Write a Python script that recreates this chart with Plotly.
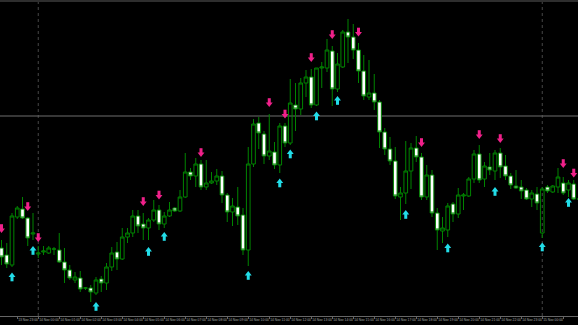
import plotly.graph_objects as go
import pandas as pd

# ---------------- data (M15 bars) ----------------
start = pd.Timestamp("2024-11-13 22:15")
bar = pd.Timedelta(minutes=15)

open_ = [147.52, 147.45, 147.35, 147.83, 147.91, 147.82, 147.66, 147.46, 147.48, 147.47,
         147.51, 147.50, 147.38, 147.30, 147.20, 147.22, 147.12, 147.12, 147.07, 147.21,
         147.17, 147.33, 147.48, 147.41, 147.63, 147.67, 147.84, 147.76, 147.72, 147.80,
         147.90, 147.76, 147.84, 147.92, 147.89, 148.03, 148.28, 148.24, 148.36, 148.13,
         148.17, 148.19, 148.24, 148.05, 147.88, 147.93, 147.85, 147.50, 148.36, 148.77,
         148.66, 148.44, 148.48, 148.35, 148.74, 148.57, 148.95, 148.91, 149.17, 149.23,
         148.95, 149.32, 149.32, 149.49, 149.11, 149.33, 149.68, 149.63, 149.50, 149.29,
         149.03, 149.07, 148.98, 148.68, 148.51, 148.39, 148.03, 148.07, 148.29, 148.52,
         148.43, 148.03, 148.25, 147.87, 147.69, 147.70, 147.96, 147.86, 148.04, 148.04,
         148.21, 148.46, 148.21, 148.33, 148.29, 148.47, 148.34, 148.24, 148.14, 148.13,
         148.10, 148.01, 148.06, 147.67, 148.13, 148.08, 148.13, 148.17, 148.10, 148.16,
         148.01]
high = [147.60, 147.57, 147.87, 147.94, 148.03, 147.83, 147.87, 147.54, 147.54, 147.54,
        147.53, 147.67, 147.52, 147.35, 147.28, 147.29, 147.13, 147.15, 147.23, 147.24,
        147.37, 147.53, 147.58, 147.72, 147.72, 147.90, 147.90, 147.87, 147.82, 148.00,
        147.95, 147.88, 147.98, 147.93, 148.10, 148.47, 148.32, 148.42, 148.40, 148.40,
        148.28, 148.31, 148.29, 148.07, 148.02, 148.13, 147.92, 148.53, 148.81, 148.83,
        148.69, 148.86, 148.58, 148.77, 148.77, 149.21, 149.17, 149.22, 149.30, 149.31,
        149.32, 149.38, 149.61, 149.54, 149.47, 149.70, 149.81, 149.76, 149.57, 149.45,
        149.40, 149.26, 149.00, 148.72, 148.63, 148.53, 148.13, 148.59, 148.57, 148.64,
        148.47, 148.35, 148.30, 147.92, 147.83, 147.97, 147.98, 148.12, 148.07, 148.23,
        148.50, 148.55, 148.38, 148.47, 148.50, 148.52, 148.45, 148.27, 148.30, 148.20,
        148.12, 148.10, 148.13, 148.13, 148.15, 148.15, 148.32, 148.23, 148.20, 148.20,
        148.03]
low = [147.35, 147.32, 147.33, 147.81, 147.81, 147.54, 147.60, 147.42, 147.45, 147.46,
       147.45, 147.37, 147.17, 147.20, 147.17, 147.08, 147.10, 146.98, 147.05, 147.08,
       147.10, 147.29, 147.30, 147.40, 147.57, 147.63, 147.67, 147.60, 147.60, 147.78,
       147.70, 147.72, 147.83, 147.88, 147.88, 148.02, 148.20, 148.13, 148.10, 148.10,
       148.16, 148.15, 147.97, 147.78, 147.74, 147.75, 147.45, 147.34, 148.33, 148.51,
       148.36, 148.40, 148.31, 148.27, 148.53, 148.55, 148.69, 148.85, 149.03, 148.92,
       148.94, 149.12, 149.28, 148.94, 149.08, 149.32, 149.37, 149.41, 149.17, 149.00,
       149.00, 148.90, 148.52, 148.45, 148.35, 148.01, 147.80, 147.96, 148.11, 148.38,
       148.00, 148.00, 147.83, 147.50, 147.57, 147.63, 147.78, 147.82, 147.90, 148.03,
       148.17, 148.17, 148.13, 148.25, 148.20, 148.22, 148.20, 148.11, 148.11, 148.01,
       148.00, 147.93, 147.90, 147.62, 148.07, 148.07, 148.07, 148.05, 148.03, 148.00,
       147.99]
close = [147.43, 147.36, 147.84, 147.92, 147.82, 147.62, 147.67, 147.47, 147.49, 147.52,
         147.51, 147.38, 147.30, 147.22, 147.23, 147.11, 147.12, 147.08, 147.20, 147.17,
         147.33, 147.47, 147.41, 147.63, 147.67, 147.84, 147.74, 147.72, 147.80, 147.90,
         147.76, 147.84, 147.90, 147.89, 148.03, 148.28, 148.24, 148.36, 148.13, 148.17,
         148.19, 148.24, 148.05, 147.88, 147.94, 147.84, 147.50, 148.36, 148.76, 148.67,
         148.44, 148.49, 148.35, 148.74, 148.57, 148.97, 148.91, 149.17, 149.23, 148.95,
         149.32, 149.33, 149.50, 149.11, 149.36, 149.68, 149.63, 149.50, 149.29, 149.04,
         149.07, 148.98, 148.68, 148.51, 148.39, 148.04, 148.07, 148.29, 148.52, 148.43,
         148.03, 148.25, 147.87, 147.70, 147.72, 147.94, 147.86, 148.05, 148.05, 148.21,
         148.46, 148.20, 148.34, 148.30, 148.47, 148.33, 148.24, 148.15, 148.12, 148.09,
         148.01, 148.07, 147.97, 148.11, 148.09, 148.14, 148.23, 148.07, 148.17, 148.01,
         148.01]

# indicator arrows: bar index and price
sell_idx = [0, 5, 7, 27, 30, 38, 51, 54, 59, 63, 68, 80, 91, 95, 107, 109]
sell_val = [147.715, 147.935, 147.625, 147.985, 148.05, 148.475, 148.975, 148.86,
            149.425, 149.655, 149.68, 148.575, 148.655, 148.615, 148.365, 148.27]
buy_idx = [2, 6, 18, 28, 31, 47, 53, 55, 60, 64, 77, 85, 94, 103, 108]
buy_val = [147.23, 147.495, 146.935, 147.485, 147.635, 147.245, 148.17, 148.46,
           148.84, 148.995, 147.855, 147.52, 148.085, 147.53, 147.975]

hline_price = 148.84
separators = ["2024-11-14 00:00", "2024-11-15 00:00"]

# ---------------- figure ----------------
times = [start + i * bar for i in range(len(open_))]
PINK = "#f0208a"
CYAN = "#22dde8"
WICK = "#008400"

fig = go.Figure()
fig.add_trace(go.Candlestick(
    x=times, open=open_, high=high, low=low, close=close,
    increasing=dict(line=dict(color=WICK, width=1), fillcolor="rgba(0,0,0,0)"),
    decreasing=dict(line=dict(color=WICK, width=1), fillcolor="#ffffff"),
    whiskerwidth=0, hoverinfo="skip", showlegend=False,
))

off = 0.015
def arrow(idx, vals, color, down):
    xs = [times[i] for i in idx]
    sgn = 1 if down else -1
    fig.add_trace(go.Scatter(
        x=xs, y=[v + sgn * off for v in vals], mode="markers",
        marker=dict(symbol="line-ns", size=4, color=color,
                    line=dict(color=color, width=3)),
        hoverinfo="skip", showlegend=False))
    fig.add_trace(go.Scatter(
        x=xs, y=[v - sgn * off for v in vals], mode="markers",
        marker=dict(symbol="triangle-down" if down else "triangle-up", size=6,
                    color=color, line=dict(width=0)),
        hoverinfo="skip", showlegend=False))

arrow(sell_idx, sell_val, PINK, True)
arrow(buy_idx, buy_val, CYAN, False)

shapes = []
for s in separators:
    shapes.append(dict(type="line", xref="x", yref="paper", x0=s, x1=s, y0=0, y1=1,
                       line=dict(color="#474747", width=1, dash="dot"), layer="below"))
shapes.append(dict(type="line", xref="paper", yref="y", x0=0, x1=1,
                   y0=hline_price, y1=hline_price,
                   line=dict(color="#6e6e6e", width=1), layer="below"))
shapes.append(dict(type="line", xref="paper", yref="paper", x0=0, x1=1, y0=1, y1=1,
                   line=dict(color="#2e2e2e", width=4), layer="above"))

x0 = start + bar * (-1.5 / 5.25)
x1 = start + bar * (576.5 / 5.25)

fig.update_layout(
    width=578, height=325,
    margin=dict(l=0, r=0, t=0, b=9, autoexpand=False),
    paper_bgcolor="#000000", plot_bgcolor="#000000",
    boxgap=0.3, boxgroupgap=0,
    shapes=shapes,
    xaxis=dict(type="date", range=[x0, x1], rangeslider=dict(visible=False),
               showgrid=False, zeroline=False, showline=True, linecolor="#666666",
               linewidth=1, ticks="outside", ticklen=2, tickcolor="#666666",
               tick0="2024-11-13 00:00", dtick=3600000, tickformat="%d %b %H:%M",
               ticklabelposition="outside right", tickangle=0, automargin=False,
               tickfont=dict(family="Liberation Sans", size=3.3, color="#aaaaaa"),
               fixedrange=True),
    yaxis=dict(visible=False, range=[146.84, 150.0], fixedrange=True),
)

fig.write_html("out.html")
